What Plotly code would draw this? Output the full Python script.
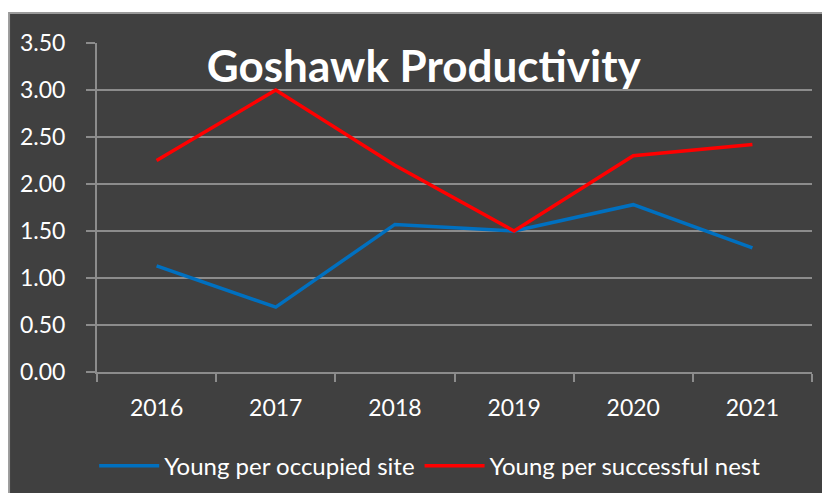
import plotly.graph_objects as go

years = ["2016", "2017", "2018", "2019", "2020", "2021"]
per_occupied_site = [1.13, 0.69, 1.57, 1.50, 1.78, 1.32]
per_successful_nest = [2.25, 3.00, 2.20, 1.50, 2.30, 2.42]

BG = "#404040"
GRID = "#8c8c8c"
FONT = "Lato"

fig = go.Figure()
fig.add_trace(go.Scatter(
    x=years, y=per_occupied_site, mode="lines", name="Young per occupied site",
    line=dict(color="#0070C0", width=3.5),
))
fig.add_trace(go.Scatter(
    x=years, y=per_successful_nest, mode="lines", name="Young per successful nest",
    line=dict(color="#FF0000", width=3.5),
))

# dark panel behind everything
fig.add_shape(
    type="rect", xref="paper", yref="paper",
    x0=-0.123, x1=1.10, y0=-0.40, y1=1.091,
    fillcolor=BG, line=dict(color="#9a9a9a", width=2), layer="below",
)

# page body adds an 8px margin, so the figure is shifted 8px in the window
fig.update_layout(
    width=830, height=485,
    margin=dict(l=89, r=26, t=35, b=121, autoexpand=False),
    paper_bgcolor="white",
    plot_bgcolor=BG,
    font=dict(family=FONT, color="white", size=22),
    title=dict(
        text="<b>Goshawk Productivity</b>",
        font=dict(family=FONT, size=44, color="white"),
        x=0.501, xref="container", xanchor="center",
        y=0.880, yref="container", yanchor="middle",
    ),
    showlegend=True,
    legend=dict(
        orientation="h", x=0.466, xanchor="center", y=-0.286, yanchor="middle",
        font=dict(family=FONT, size=24, color="white"),
        bgcolor="rgba(0,0,0,0)", itemwidth=60,
    ),
    xaxis=dict(
        range=[-0.5, 5.5], automargin=False,
        showgrid=False, showline=True, linecolor=GRID, linewidth=2,
        ticks="outside", tickson="boundaries", ticklen=8, tickcolor=GRID,
        tickwidth=2, ticklabelstandoff=14,
        tickfont=dict(family=FONT, size=23, color="white"),
    ),
    yaxis=dict(
        range=[0, 3.5], dtick=0.5, tickformat=".2f", automargin=False,
        showgrid=True, gridcolor=GRID, gridwidth=2,
        showline=True, linecolor=GRID, linewidth=2,
        ticks="outside", ticklen=9, tickcolor=GRID, tickwidth=2,
        ticklabelstandoff=16, zeroline=False,
        tickfont=dict(family=FONT, size=23, color="white"),
    ),
)

fig.write_html("out.html")
